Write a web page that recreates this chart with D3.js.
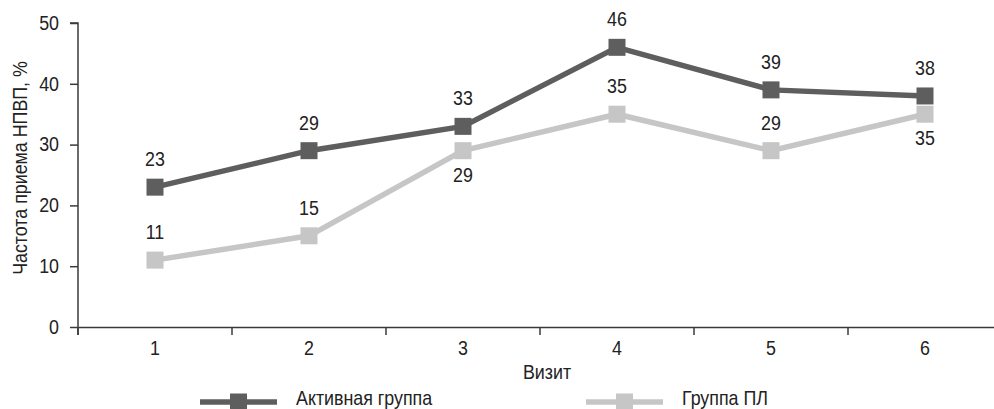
<!DOCTYPE html>
<html>
<head>
<meta charset="utf-8">
<script src="https://cdn.jsdelivr.net/npm/d3@7"></script>
<style>
  html, body { margin: 0; padding: 0; background: #fff; }
  svg { display: block; }
  text { font-family: "Liberation Sans", Arial, Helvetica, sans-serif; fill: #222; }
</style>
</head>
<body>
<svg id="chart" width="994" height="409"></svg>
<script>
// Visits and NSAID intake frequency (%) for both groups
const visits = ["1", "2", "3", "4", "5", "6"];
const activeGroup = [23, 29, 33, 46, 39, 38];
const placeboGroup = [11, 15, 29, 35, 29, 35];
const yTicks = [0, 10, 20, 30, 40, 50];
const seriesNames = ["Активная группа", "Группа ПЛ"];

// where each value label sits relative to its marker
const activeLabelSide = ["above", "above", "above", "above", "above", "above"];
const placeboLabelSide = ["above", "above", "below", "above", "above", "below"];

const colors = { active: "#5e5e5e", placebo: "#c6c6c6", axis: "#3a3a3a" };
const fontSize = "19.5px";
const narrow = 0.915; // horizontal squeeze for a condensed look

// move x/y of text nodes into a transform so the glyphs can be narrowed
function squeeze(sel, extra) {
  sel.each(function () {
    const t = d3.select(this);
    const tx = +t.attr("x") || 0, ty = +t.attr("y") || 0;
    t.attr("x", 0).attr("y", 0)
     .attr("transform", `translate(${tx},${ty})${extra || ""} scale(${narrow},1)`);
  });
}

const svg = d3.select("#chart");
const plotLeft = 78, plotRight = 1002, plotTop = 23, plotBottom = 327;

const x = d3.scaleBand().domain(visits).range([plotLeft, plotRight]);
const y = d3.scaleLinear().domain([0, 50]).range([plotBottom, plotTop]);
const cx = d => x(d) + x.bandwidth() / 2;

// Y axis
const yAxis = svg.append("g")
  .attr("transform", `translate(${plotLeft},0)`)
  .call(d3.axisLeft(y).tickValues(yTicks).tickSize(8).tickPadding(11));
yAxis.select(".domain").attr("stroke", colors.axis).attr("stroke-width", 1.5)
  .attr("d", `M-8,${y(50)}H0V${plotBottom + 8}`);
yAxis.selectAll(".tick line").attr("stroke", colors.axis).attr("stroke-width", 1.5);
yAxis.selectAll(".tick text").style("font-size", fontSize).attr("fill", "#222").call(squeeze);

// X axis: baseline, category labels and boundary ticks
const xAxis = svg.append("g")
  .attr("transform", `translate(0,${plotBottom})`)
  .call(d3.axisBottom(x).tickSize(0).tickPadding(11));
xAxis.select(".domain").attr("stroke", colors.axis).attr("stroke-width", 1.5);
xAxis.selectAll(".tick text").style("font-size", fontSize).attr("fill", "#222").attr("dy", "0.86em").call(squeeze);
xAxis.selectAll("line.bound")
  .data(visits.map(v => x(v)).concat([plotRight]))
  .enter().append("line")
  .attr("class", "bound")
  .attr("x1", d => d).attr("x2", d => d)
  .attr("y1", 0).attr("y2", 8)
  .attr("stroke", colors.axis).attr("stroke-width", 1.5);

// Axis titles
svg.append("text")
  .attr("x", 27).attr("y", 168)
  .attr("text-anchor", "middle")
  .style("font-size", fontSize)
  .text("Частота приема НПВП, %")
  .call(squeeze, " rotate(-90)");

svg.append("text")
  .attr("x", 547).attr("y", 379)
  .attr("text-anchor", "middle")
  .style("font-size", fontSize)
  .text("Визит")
  .call(squeeze);

// Series
const series = [
  { name: seriesNames[0], values: activeGroup, color: colors.active, sides: activeLabelSide },
  { name: seriesNames[1], values: placeboGroup, color: colors.placebo, sides: placeboLabelSide }
];

const line = d3.line().x((d, i) => cx(visits[i])).y(d => y(d));
const markerSize = 17;

// draw placebo first so the active line stays on top
[series[1], series[0]].forEach(s => {
  const g = svg.append("g");
  g.append("path")
    .datum(s.values)
    .attr("d", line)
    .attr("fill", "none")
    .attr("stroke", s.color)
    .attr("stroke-width", 5.5);
  g.selectAll("rect")
    .data(s.values)
    .enter().append("rect")
    .attr("x", (d, i) => cx(visits[i]) - markerSize / 2)
    .attr("y", d => y(d) - markerSize / 2)
    .attr("width", markerSize)
    .attr("height", markerSize)
    .attr("fill", s.color);
});

series.forEach(s => {
  svg.append("g").selectAll("text")
    .data(s.values)
    .enter().append("text")
    .attr("x", (d, i) => cx(visits[i]))
    .attr("y", (d, i) => s.sides[i] === "above" ? y(d) - 21 : y(d) + 31)
    .attr("text-anchor", "middle")
    .style("font-size", fontSize)
    .text(d => d)
    .call(squeeze);
});

// Legend
const legend = svg.append("g");
const legendItems = [
  { name: seriesNames[0], color: colors.active, x0: 200 },
  { name: seriesNames[1], color: colors.placebo, x0: 586 }
];
legendItems.forEach(it => {
  const ly = 402;
  legend.append("line")
    .attr("x1", it.x0).attr("x2", it.x0 + 77)
    .attr("y1", ly).attr("y2", ly)
    .attr("stroke", it.color).attr("stroke-width", 5.5);
  legend.append("rect")
    .attr("x", it.x0 + 38.5 - markerSize / 2).attr("y", ly - markerSize / 2)
    .attr("width", markerSize).attr("height", markerSize)
    .attr("fill", it.color);
  legend.append("text")
    .attr("x", it.x0 + 96).attr("y", 405)
    .style("font-size", fontSize)
    .text(it.name)
    .call(squeeze);
});
</script>
</body>
</html>
